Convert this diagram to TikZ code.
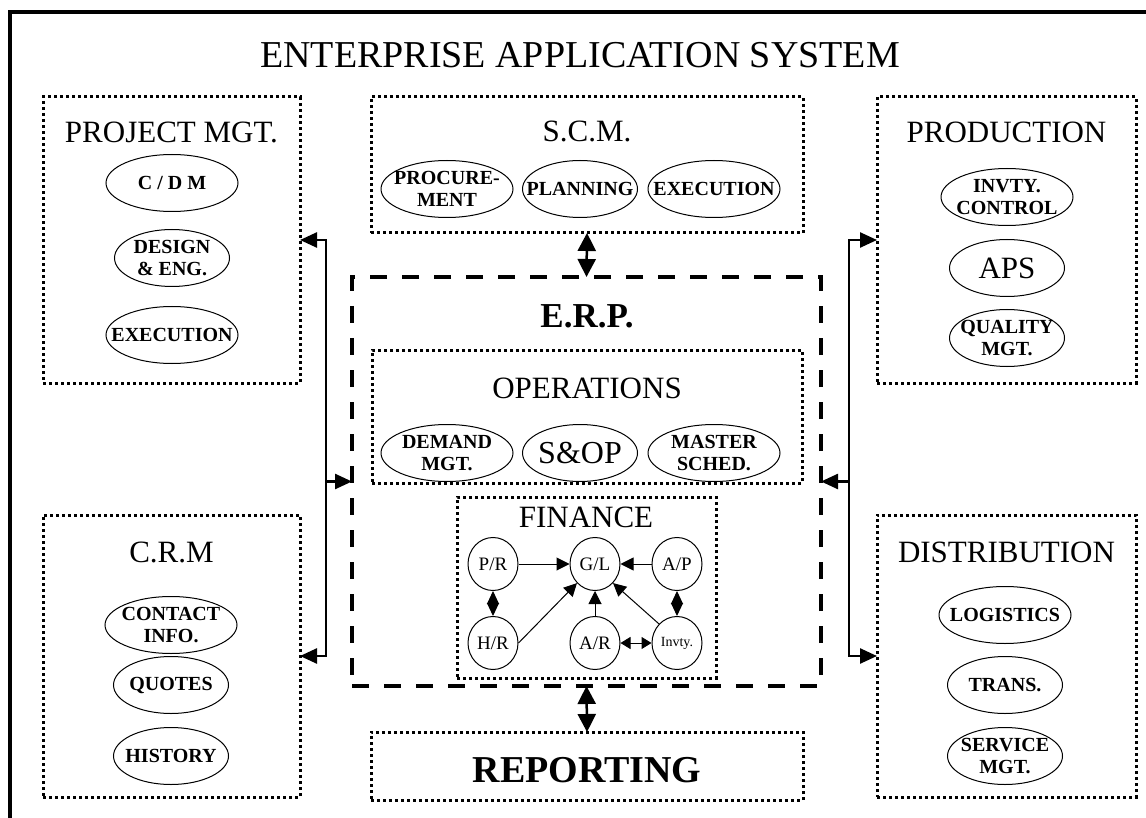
\documentclass[tikz,border=0pt]{standalone}
\usepackage{fontspec}
\setmainfont{Liberation Serif}
\usetikzlibrary{arrows.meta, shapes.geometric, positioning}

\begin{document}
\begin{tikzpicture}[
        x=0.5pt, y=-0.5pt,
        dotbox/.style={draw, line width=1.5pt, dash pattern=on 1.5pt off 1.5pt, inner sep=0pt, outer sep=0pt},
        dashbox/.style={draw, line width=2pt, dash pattern=on 8.5pt off 7.5pt, inner sep=0pt, outer sep=0pt},
        head/.style={anchor=base, font=\fontsize{15.5}{18}\selectfont},
        oval/.style={ellipse, draw, line width=0.5pt, minimum width=66pt, minimum height=28.5pt,
            inner xsep=-30pt, inner ysep=-4pt, align=center, font=\bfseries\fontsize{10}{11}\selectfont},
        ovals/.style={oval, minimum width=57.5pt},
        acct/.style={ellipse, draw, line width=0.5pt, minimum width=25pt, minimum height=26.5pt,
            inner sep=0pt, font=\fontsize{9.5}{11}\selectfont},
        link/.style={line width=1.25pt, -{Triangle[length=8.5pt, width=7.5pt]}},
        both/.style={line width=1.25pt, {Triangle[length=9pt, width=9pt]}-{Triangle[length=9pt, width=9pt]}},
        flow/.style={line width=0.5pt, -{Triangle[length=6.5pt, width=6.5pt]}},
        pair/.style={line width=0.5pt, {Triangle[length=6.5pt, width=6pt]}-{Triangle[length=6.5pt, width=6pt]}},
        pairh/.style={line width=0.5pt, {Triangle[length=5pt, width=6pt]}-{Triangle[length=5pt, width=6pt]}}
    ]
    \useasboundingbox (0,0) rectangle (1146,818);

    % outer frame
    \draw[line width=2pt] (10,818) -- (10,12) -- (1146,12);
    \node[anchor=base, font=\fontsize{19}{22}\selectfont] (title) at (580,68) {ENTERPRISE APPLICATION SYSTEM};

    % boxes
    \node[dotbox, minimum width=128.5pt, minimum height=143pt] (pm) at (171.5,240) {};
    \node[dotbox, minimum width=216pt, minimum height=68pt] (scm) at (587,165) {};
    \node[dotbox, minimum width=129.5pt, minimum height=143pt] (prod) at (1006.5,240) {};
    \node[dotbox, minimum width=128.5pt, minimum height=141pt] (crm) at (171.5,656) {};
    \node[dotbox, minimum width=129.5pt, minimum height=141pt] (dist) at (1006.5,656) {};
    \node[dashbox, minimum width=234.5pt, minimum height=204.5pt] (erp) at (586.5,481.5) {};
    \node[dotbox, minimum width=215pt, minimum height=66.5pt] (ops) at (587,416.5) {};
    \node[dotbox, minimum width=129.5pt, minimum height=90.5pt] (fin) at (586.5,587.5) {};
    \node[dotbox, minimum width=216pt, minimum height=34pt] (rep) at (587,766) {};

    % project mgt.
    \node[head] (pmt) at (171.5,143) {PROJECT MGT.};
    \node[oval] (cdm) at (172,183) {C / D M};
    \node[ovals] (design) at (172,258) {DESIGN\\\& ENG.};
    \node[oval] (pexec) at (172,335) {EXECUTION};

    % s.c.m.
    \node[head] (scmt) at (587,142) {S.C.M.};
    \node[oval] (proc) at (447,189) {PROCURE-\\MENT};
    \node[ovals] (plan) at (580,189) {PLANNING};
    \node[oval] (sexec) at (714,189) {EXECUTION};

    % production
    \node[head] (prodt) at (1006.5,143) {PRODUCTION};
    \node[oval] (invc) at (1007,197) {INVTY.\\CONTROL};
    \node[ovals, font=\fontsize{15.5}{18}\selectfont] (aps) at (1007,268) {APS};
    \node[ovals] (qual) at (1007,338) {QUALITY\\MGT.};

    % c.r.m
    \node[head] (crmt) at (171.5,562) {C.R.M};
    \node[oval] (contact) at (171,625) {CONTACT\\INFO.};
    \node[ovals] (quotes) at (171,685) {QUOTES};
    \node[ovals] (hist) at (171,756) {HISTORY};

    % distribution
    \node[head] (distt) at (1006.5,562) {DISTRIBUTION};
    \node[oval] (logi) at (1005,615) {LOGISTICS};
    \node[ovals] (trans) at (1005,685) {TRANS.};
    \node[ovals] (serv) at (1005,756) {SERVICE\\MGT.};

    % e.r.p.
    \node[anchor=base, font=\bfseries\fontsize{17.5}{20}\selectfont] (erpt) at (587,328) {E.R.P.};
    \node[head] (opst) at (587,398) {OPERATIONS};
    \node[oval] (demand) at (447,453) {DEMAND\\MGT.};
    \node[ovals, font=\fontsize{16}{18}\selectfont] (sop) at (580,453) {S\&OP};
    \node[oval] (master) at (714,453) {MASTER\\SCHED.};

    % finance
    \node[head] (fint) at (586,527) {FINANCE};
    \node[acct] (pr) at (493,564) {P/R};
    \node[acct] (gl) at (595,564) {G/L};
    \node[acct] (ap) at (677,564) {A/P};
    \node[acct] (hr) at (493,643) {H/R};
    \node[acct] (ar) at (595,643) {A/R};
    \node[acct, font=\fontsize{7}{8}\selectfont] (inv) at (677,643) {Invty.};

    \draw[flow] (pr) -- (gl);
    \draw[flow] (ap) -- (gl);
    \draw[flow] (hr.east) -- (gl.south west);
    \draw[flow] (ar) -- (gl);
    \draw[flow] (inv.north west) -- (gl.south east);
    \draw[pair] (pr) -- (hr);
    \draw[pair] (ap) -- (inv);
    \draw[pairh] (ar) -- (inv);

    % reporting
    \node[anchor=base, font=\bfseries\fontsize{19}{22}\selectfont] (rept) at (587,782) {REPORTING};

    % connectors
    \coordinate (lj) at (326,481.5);
    \coordinate (rj) at (849,481.5);
    \draw[link] (lj) |- (pm.east);
    \draw[link] (lj) |- (crm.east);
    \draw[link] (lj) -- (erp.west);
    \draw[link] (rj) |- (prod.west);
    \draw[link] (rj) |- (dist.west);
    \draw[link] (rj) -- (erp.east);
    \draw[both] (scm.south) -- (erp.north);
    \draw[both] (erp.south) -- (rep.north);

\end{tikzpicture}
\end{document}
